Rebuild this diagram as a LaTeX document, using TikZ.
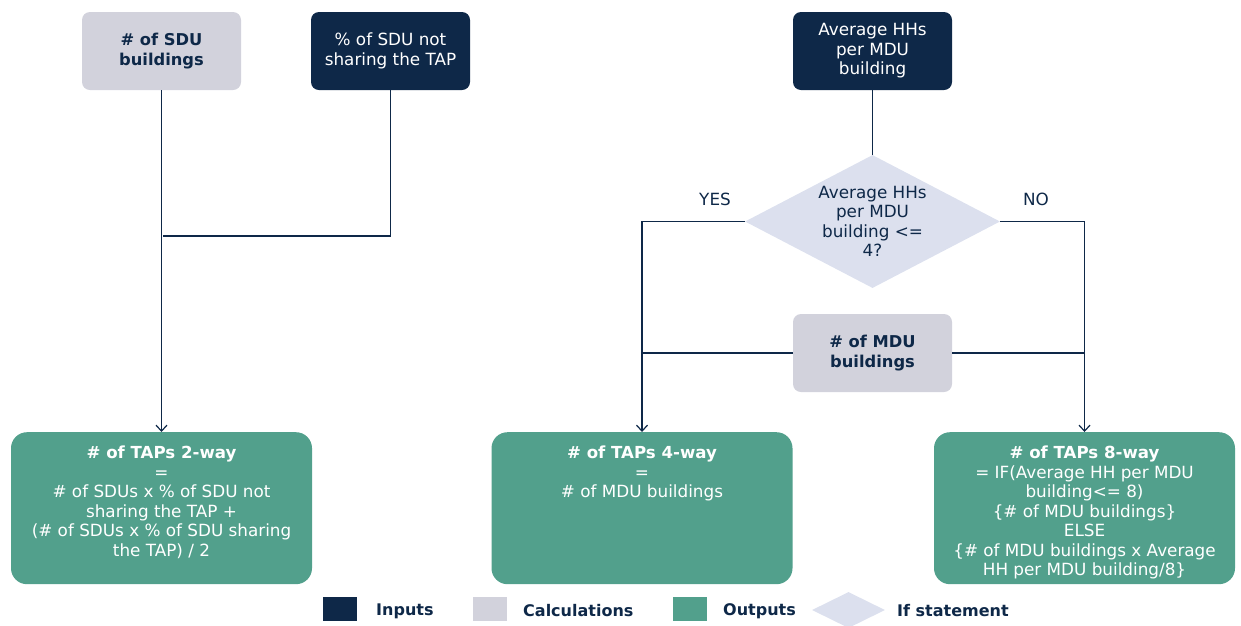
\documentclass[tikz,border=0pt]{standalone}
\usepackage{fontspec}
\setmainfont{DejaVu Sans}
\newfontfamily\hd{DejaVu Sans Bold}
\usetikzlibrary{shapes.geometric,arrows.meta}
\definecolor{navy}{HTML}{0E2848}
\definecolor{calcgray}{HTML}{D2D2DC}
\definecolor{ifblue}{HTML}{DCE0EE}
\definecolor{outgreen}{HTML}{52A08C}
\tikzset{
  txt/.style={font=\fontsize{16.8}{19.5}\selectfont, align=center, inner sep=0pt},
  inbox/.style={txt, fill=navy, text=white, rounded corners=8pt,
    minimum width=159pt, minimum height=78pt},
  calcbox/.style={txt, fill=calcgray, text=navy, rounded corners=8pt,
    minimum width=159pt, minimum height=78pt, font=\hd\fontsize{16.3}{19.5}\selectfont},
  outbox/.style={txt, fill=outgreen, text=white, rounded corners=16pt, anchor=north},
  ifshape/.style={diamond, fill=ifblue, inner sep=0pt},
  wire/.style={draw=navy, line width=1.3pt},
  arr/.style={wire, -{Straight Barb[length=6pt,width=11pt,line width=1.2pt]}},
  lab/.style={txt, text=navy},
  legtxt/.style={inner sep=0pt, text=navy, anchor=west, font=\hd\fontsize{16}{19.5}\selectfont},
  legsq/.style={minimum width=34pt, minimum height=24pt, inner sep=0pt}
}
\newcommand{\boxtext}[2]{\parbox[c][152pt][t]{301pt}{\centering\vspace*{14pt}{\hd\fontsize{16.6}{19.5}\selectfont #1}\\#2}}
\begin{document}
\begin{tikzpicture}[x=1pt,y=-1pt]
\useasboundingbox (0,0) rectangle (1241,625);

% inputs and calculations
\node[calcbox] (sdu) at (161.5,51) {\# of SDU\\buildings};
\node[inbox] (pct) at (390.5,51) {\% of SDU not\\sharing the TAP};
\node[inbox] (avg) at (872.5,51) {Average HHs\\per MDU\\building};
\node[calcbox] (mdu) at (872.5,353) {\# of MDU\\buildings};

% decision
\node[ifshape, minimum width=255pt, minimum height=133pt] (q) at (872.5,221.5) {};
\node[lab] (qtext) at (q.center) {Average HHs\\per MDU\\building <=\\4?};
\node[lab] (yes) at (715,199) {YES};
\node[lab] (no) at (1036,199) {NO};

% outputs
\node[outbox] (out1) at (161.5,432) {\boxtext{\# of TAPs 2-way}{=\\\# of SDUs x \% of SDU not\\sharing the TAP +\\(\# of SDUs x \% of SDU sharing\\the TAP) / 2}};
\node[outbox] (out2) at (642,432) {\boxtext{\# of TAPs 4-way}{=\\\# of MDU buildings}};
\node[outbox] (out3) at (1084.5,432) {\boxtext{\# of TAPs 8-way}{= IF(Average HH per MDU\\building<= 8)\\\{\# of MDU buildings\}\\ELSE\\\{\# of MDU buildings x Average\\HH per MDU building/8\}}};

% connectors
\coordinate (join1) at (163,236);
\draw[arr] (sdu) -- (out1);
\draw[wire] (pct.south) |- (join1);
\draw[wire] (avg.south) -- (q.north);
\draw[arr] (q.west) -| (out2.north);
\draw[arr] (q.east) -| (out3.north);
\draw[wire] (mdu.west) -- (mdu.west -| out2.north);
\draw[wire] (mdu.east) -- (mdu.east -| out3.north);

% legend
\node[legsq, fill=navy] (lin) at (340,609) {};
\node[legtxt] (tin) at (376,611) {Inputs};
\node[legsq, fill=calcgray] (lcalc) at (489.5,609) {};
\node[legtxt] (tcalc) at (523,611) {Calculations};
\node[legsq, fill=outgreen] (lout) at (689.5,609) {};
\node[legtxt] (tout) at (723,611) {Outputs};
\node[ifshape, minimum width=73pt, minimum height=36pt] (lif) at (848.5,610) {};
\node[legtxt] (tif) at (897,611) {If statement};
\end{tikzpicture}
\end{document}
